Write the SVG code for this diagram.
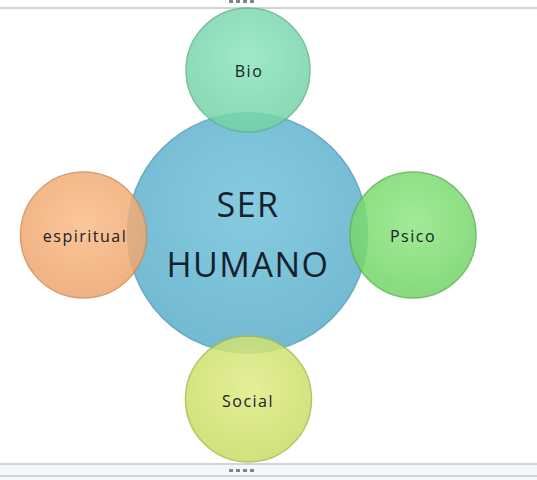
<svg xmlns="http://www.w3.org/2000/svg" width="537" height="480" viewBox="0 0 537 480">
  <defs>
    <style>
      .lbl { font-family: "Open Sans", "Liberation Sans", sans-serif; font-size: 16px; letter-spacing: 1.5px; fill: #18202a; text-anchor: middle; }
      .main { font-family: "Open Sans", "Liberation Sans", sans-serif; font-size: 34px; fill: #14202c; text-anchor: middle; letter-spacing: 1.5px; }
      .sat { stroke-width: 1.5; opacity: 0.85; }
      .dot { fill: #80858c; }
      .rule { stroke: #cfd4d9; stroke-width: 2; }
    </style>
    <radialGradient id="gBlue" cx="50%" cy="40%" r="60%">
      <stop offset="0" stop-color="#86cbe0"/>
      <stop offset="1" stop-color="#72b9d2"/>
    </radialGradient>
    <radialGradient id="gBio" cx="50%" cy="40%" r="60%">
      <stop offset="0" stop-color="#8fe6bd"/>
      <stop offset="1" stop-color="#74d2a6"/>
    </radialGradient>
    <radialGradient id="gEsp" cx="50%" cy="40%" r="60%">
      <stop offset="0" stop-color="#fbbd88"/>
      <stop offset="1" stop-color="#eea56e"/>
    </radialGradient>
    <radialGradient id="gPsi" cx="50%" cy="40%" r="60%">
      <stop offset="0" stop-color="#92e886"/>
      <stop offset="1" stop-color="#72d467"/>
    </radialGradient>
    <radialGradient id="gSoc" cx="50%" cy="40%" r="60%">
      <stop offset="0" stop-color="#e0ec86"/>
      <stop offset="1" stop-color="#cadd66"/>
    </radialGradient>
  </defs>
  <rect x="0" y="0" width="537" height="480" fill="#ffffff"/>
  <rect x="0" y="464" width="537" height="16" fill="#f3f7fa"/>
  <line class="rule" x1="0" y1="8" x2="537" y2="8"/>
  <line class="rule" x1="0" y1="464" x2="537" y2="464"/>
  <line class="rule" x1="0" y1="476" x2="537" y2="476"/>
  <g id="handles">
    <rect class="dot" x="229" y="0" width="4" height="3"/>
    <rect class="dot" x="236" y="0" width="4" height="3"/>
    <rect class="dot" x="243" y="0" width="4" height="3"/>
    <rect class="dot" x="250" y="0" width="4" height="3"/>
    <rect class="dot" x="229" y="469" width="4" height="3"/>
    <rect class="dot" x="236" y="469" width="4" height="3"/>
    <rect class="dot" x="243" y="469" width="4" height="3"/>
    <rect class="dot" x="250" y="469" width="4" height="3"/>
  </g>
  <g id="connectors"></g>
  <g id="ser-humano">
    <circle cx="247.5" cy="233" r="120" fill="url(#gBlue)" stroke="#6aaac2" stroke-width="1.5"/>
    <text class="main" x="248" y="217">SER</text>
    <text class="main" x="248" y="277">HUMANO</text>
  </g>
  <g id="bio">
    <circle class="sat" cx="248" cy="70" r="62" fill="url(#gBio)" stroke="#5fb690"/>
    <text class="lbl" x="249" y="77">Bio</text>
  </g>
  <g id="espiritual">
    <circle class="sat" cx="83.5" cy="235" r="63" fill="url(#gEsp)" stroke="#d08e5a"/>
    <text class="lbl" x="85" y="242">espiritual</text>
  </g>
  <g id="psico">
    <circle class="sat" cx="413" cy="235" r="63" fill="url(#gPsi)" stroke="#5cb552"/>
    <text class="lbl" x="413" y="242">Psico</text>
  </g>
  <g id="social">
    <circle class="sat" cx="248.5" cy="399" r="63" fill="url(#gSoc)" stroke="#a9bb4c"/>
    <text class="lbl" x="248" y="407">Social</text>
  </g>
</svg>
